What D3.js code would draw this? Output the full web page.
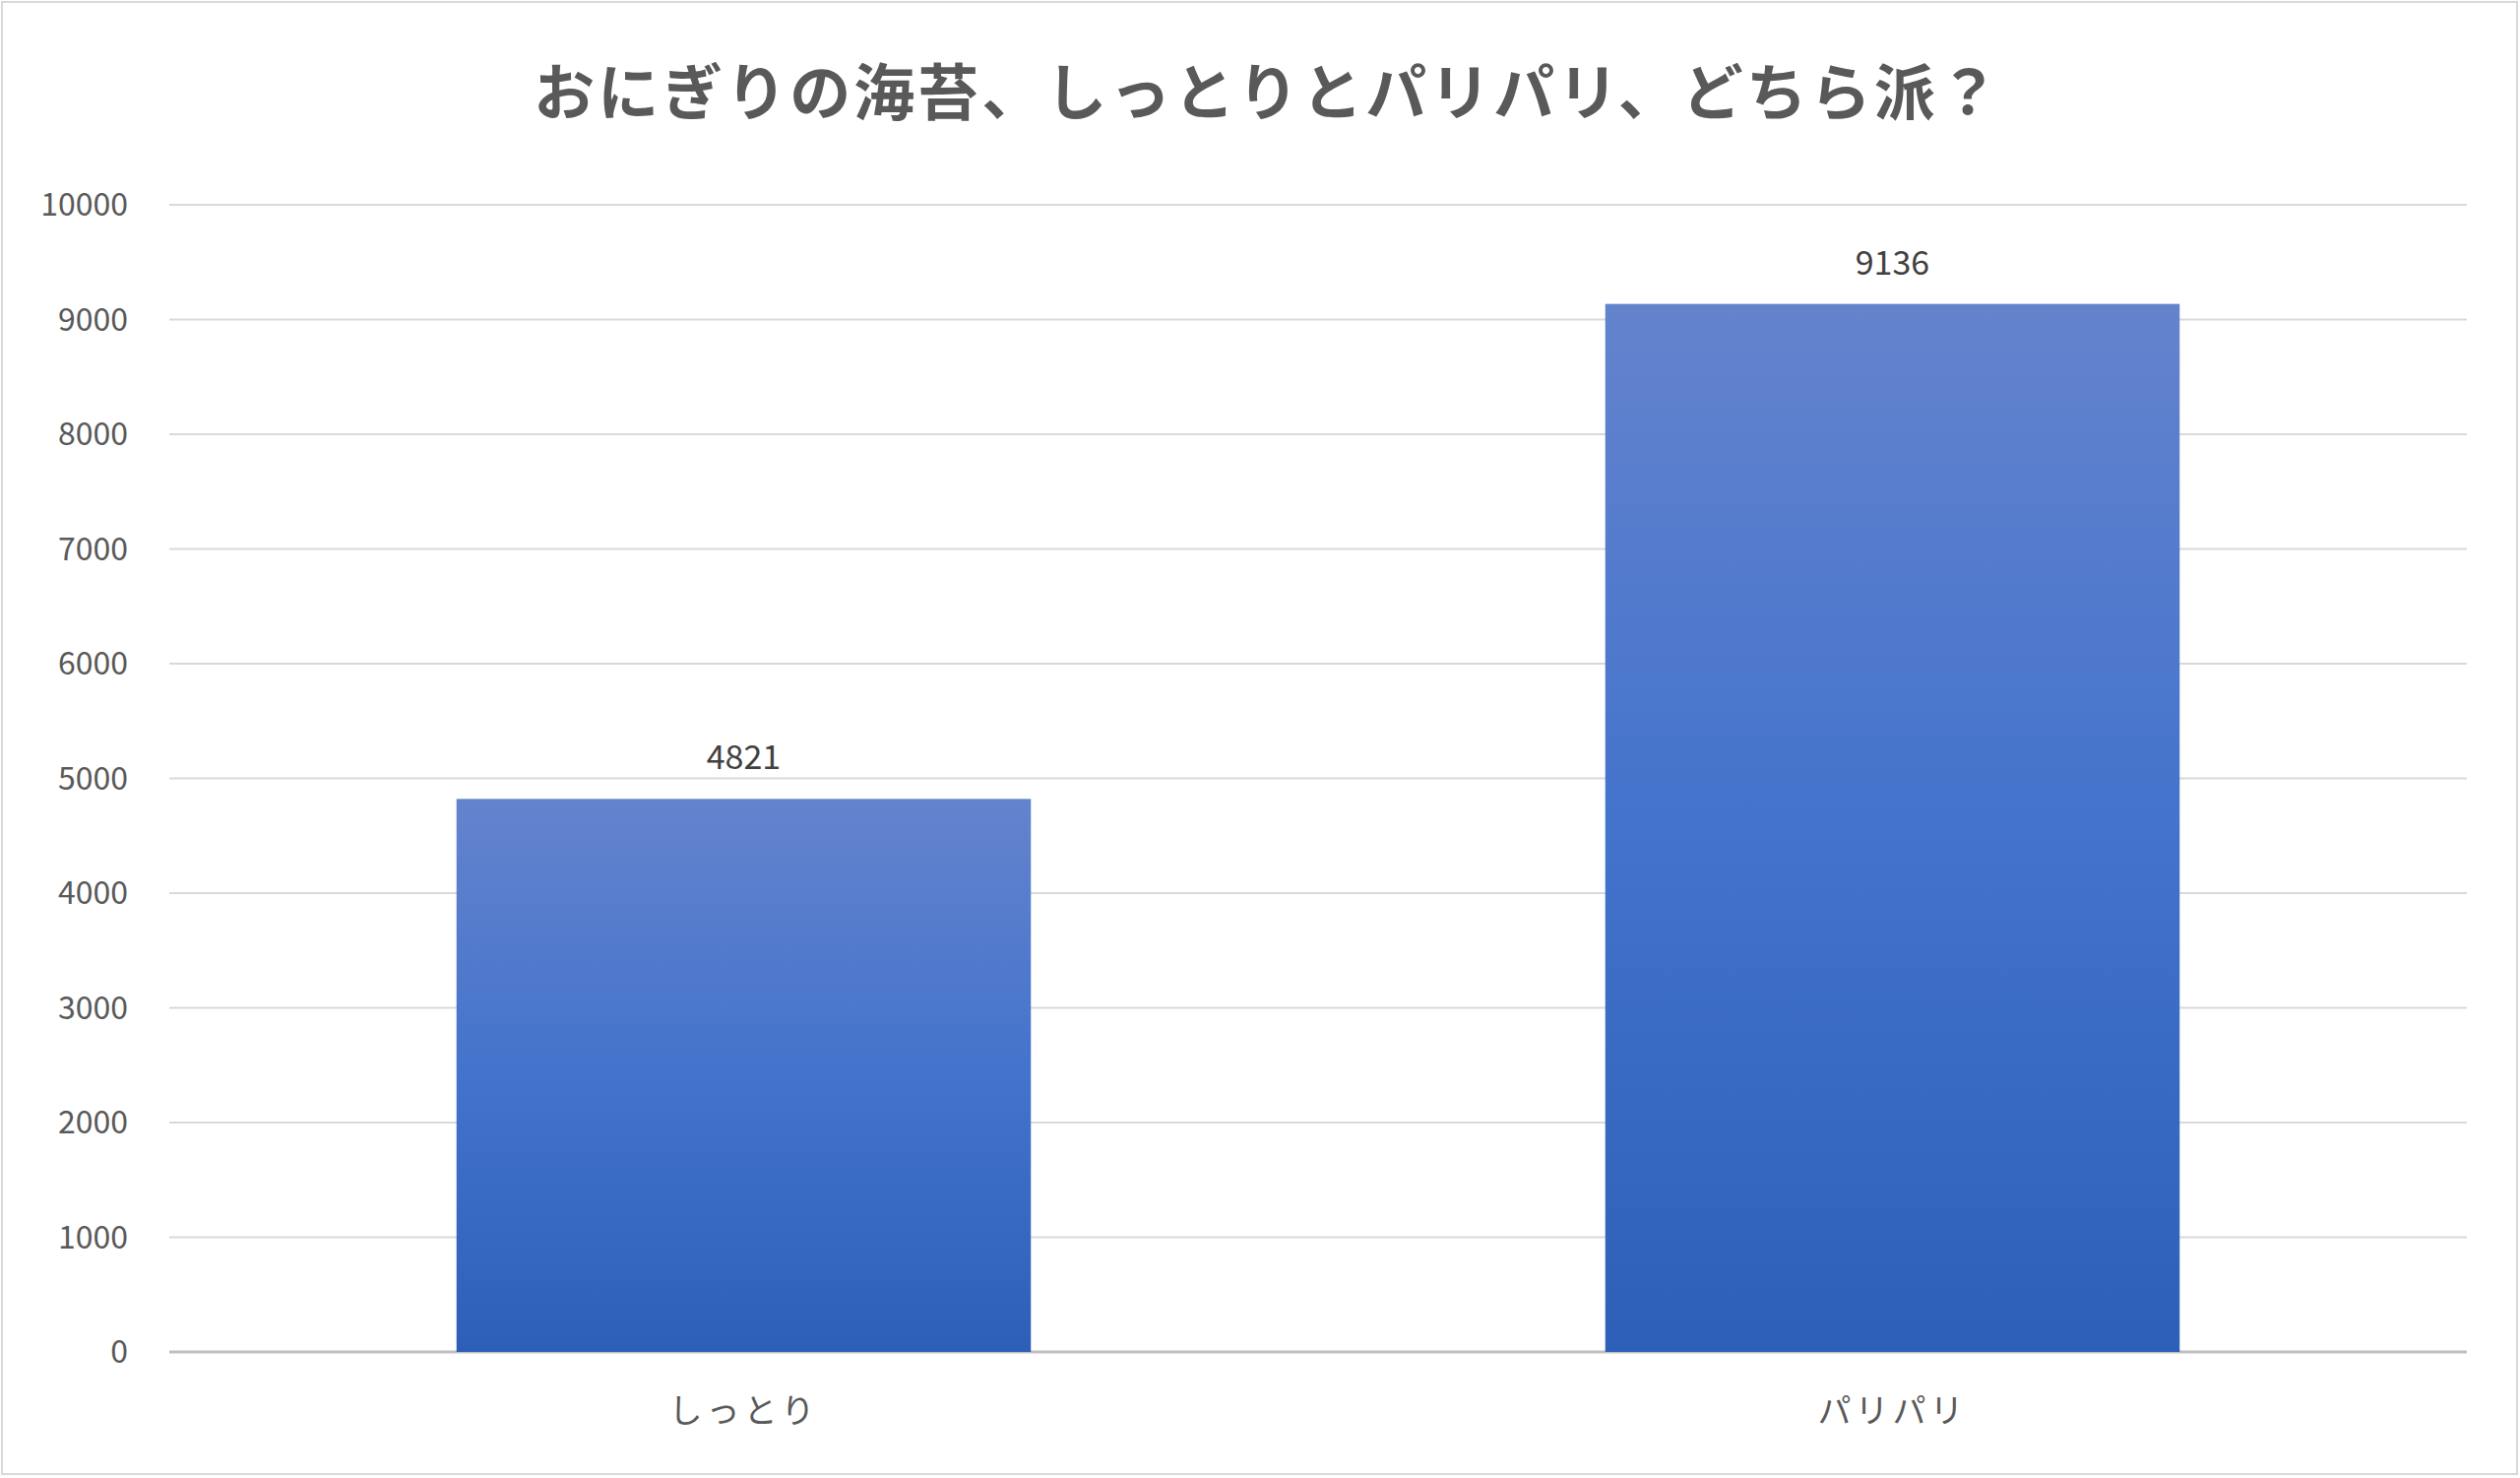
<!DOCTYPE html>
<html><head><meta charset="utf-8">
<script src="https://cdn.jsdelivr.net/npm/d3@7"></script>
<style>body{margin:0;background:#fff}</style>
</head><body>
<svg id="chart" width="2560" height="1501"></svg>
<script>
const categories = ["しっとり", "パリパリ"];
const votes = [4821, 9136];
const yTicks = [0,1000,2000,3000,4000,5000,6000,7000,8000,9000,10000];

const svg = d3.select("#chart");
const font = "'Noto Sans CJK JP','Noto Sans',sans-serif";
const margin = {left: 172, right: 54, top: 208, bottom: 128};
const W = 2560, H = 1501;

svg.append("rect").attr("x",2).attr("y",2).attr("width",W-5).attr("height",H-6)
  .attr("fill","#fff").attr("stroke","#d9d9d9").attr("stroke-width",2);

const defs = svg.append("defs");
const grad = defs.append("linearGradient").attr("id","barGrad")
  .attr("x1",0).attr("y1",0).attr("x2",0).attr("y2",1);
grad.append("stop").attr("offset","0%").attr("stop-color","#6483cd");
grad.append("stop").attr("offset","50%").attr("stop-color","#4373cc");
grad.append("stop").attr("offset","100%").attr("stop-color","#2d5fb9");

const x = d3.scaleBand().domain(categories)
  .range([margin.left, W - margin.right]).paddingInner(0.5).paddingOuter(0.25);
const y = d3.scaleLinear().domain([0,10000]).range([H - margin.bottom, margin.top]);

// gridlines
svg.append("g").selectAll("line").data(yTicks).join("line")
  .attr("x1", margin.left).attr("x2", W - margin.right)
  .attr("y1", d => y(d)).attr("y2", d => y(d))
  .attr("stroke", d => d === 0 ? "#bfbfbf" : "#d9d9d9").attr("stroke-width", d => d === 0 ? 3 : 2);

// y tick labels
svg.append("g").selectAll("text").data(yTicks).join("text")
  .attr("x", 130).attr("y", d => y(d)).attr("dy","0.35em")
  .attr("text-anchor","end").attr("font-family",font).attr("font-size",32)
  .attr("fill","#595959").text(d => d);

// bars
svg.append("g").selectAll("rect").data(votes).join("rect")
  .attr("x", (d,i) => x(categories[i])).attr("width", x.bandwidth())
  .attr("y", d => y(d)).attr("height", d => y(0) - y(d))
  .attr("fill","url(#barGrad)");

// value labels
svg.append("g").selectAll("text").data(votes).join("text")
  .attr("x", (d,i) => x(categories[i]) + x.bandwidth()/2).attr("y", d => y(d) - 30)
  .attr("text-anchor","middle").attr("font-family",font).attr("font-size",34)
  .attr("fill","#404040").text(d => d);

// category labels
svg.append("g").selectAll("text").data(categories).join("text")
  .attr("x", d => x(d) + x.bandwidth()/2).attr("y", 1433).attr("dy","0.35em")
  .attr("text-anchor","middle").attr("font-family",font).attr("font-size",34)
  .attr("letter-spacing",4).attr("fill","#595959").text(d => d);

// title
svg.append("text").attr("x", W/2 + 8).attr("y", 95).attr("dy","0.35em")
  .attr("text-anchor","middle").attr("font-family",font).attr("font-size",62)
  .attr("font-weight","bold").attr("letter-spacing",3).attr("fill","#595959")
  .text("おにぎりの海苔、しっとりとパリパリ、どちら派？");
</script>
</body></html>
